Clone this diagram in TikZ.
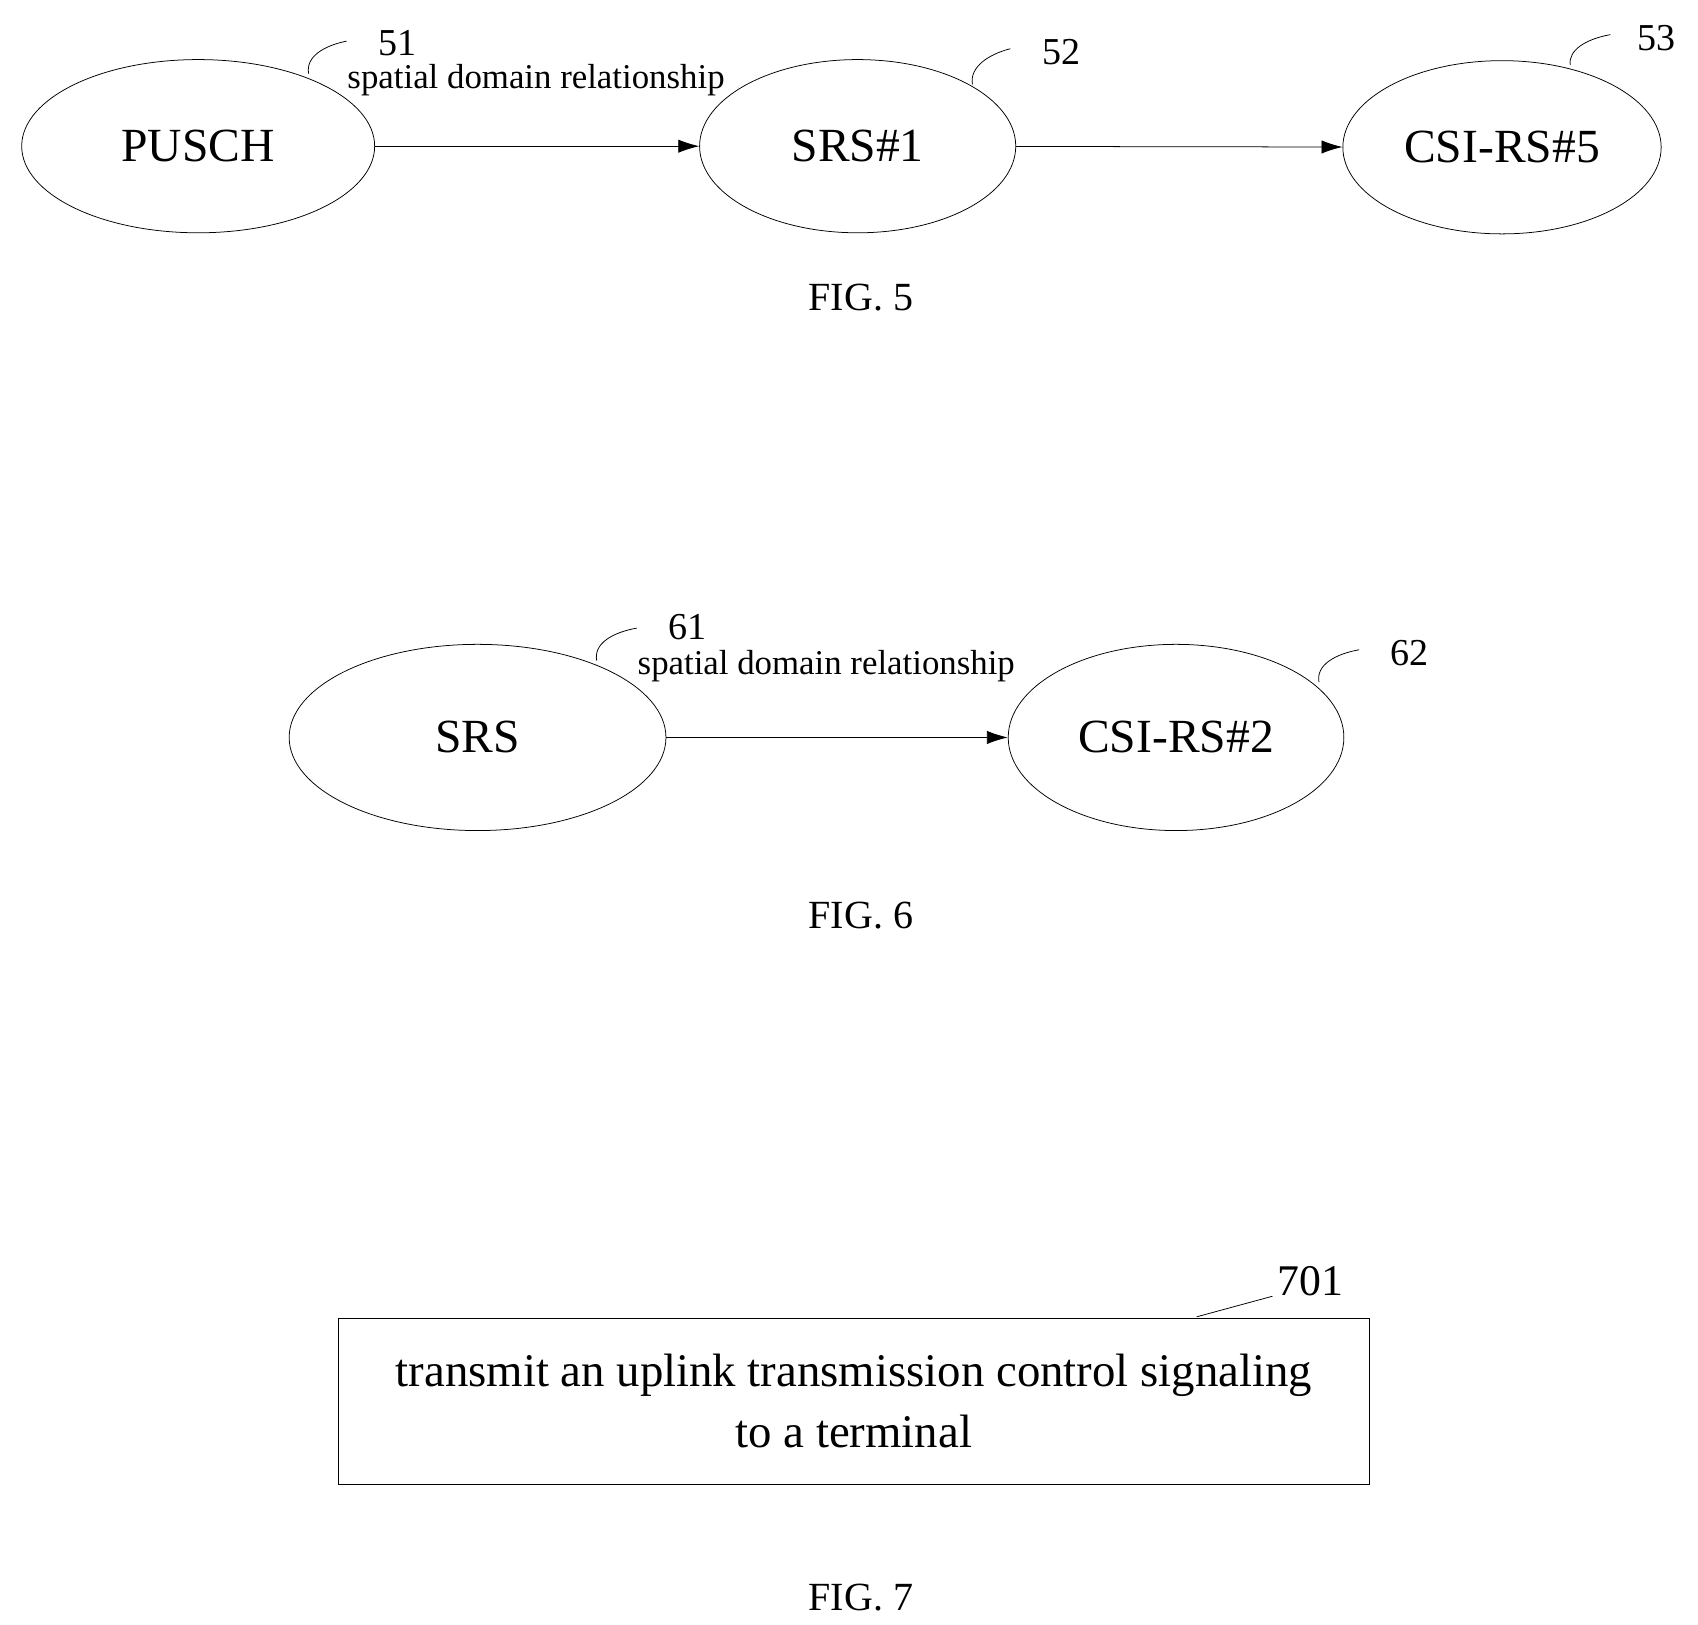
\documentclass[tikz,border=0pt]{standalone}
\usepackage{fontspec}
\setmainfont{Liberation Serif}
\usetikzlibrary{shapes.geometric,arrows.meta}
\begin{document}
\begin{tikzpicture}[x=0.02cm,y=-0.02cm,
  ell/.style={draw,ellipse,inner sep=0pt,font=\fontsize{25}{30}\selectfont},
  num/.style={font=\fontsize{20}{24}\selectfont},
  lab/.style={font=\fontsize{18.3}{20}\selectfont},
  fig/.style={font=\fontsize{21}{25}\selectfont},
  arr/.style={-{Latex[length=11pt,width=7pt]},thin}]
\useasboundingbox (0,0) rectangle (1568,1500);
% FIG 5
\node[ell,minimum width=6.52cm,minimum height=3.2cm] (pusch) at (183,135) {PUSCH};
\node[ell,minimum width=5.84cm,minimum height=3.2cm] (srs1) at (792,135) {SRS\#1};
\node[ell,minimum width=5.88cm,minimum height=3.2cm] (csi5) at (1387,136) {CSI-RS\#5};
\draw[arr] (pusch) -- (srs1);
\draw[arr] (srs1) -- (csi5);
\node[num] (n51) at (367,40) {51};
\node[lab] (l5) at (495,74) {spatial domain relationship};
\node[num] (n52) at (980,48) {52};
\node[num] (n53) at (1530,35) {53};
\draw[thin] (285,68) .. controls (282,52) and (300,42) .. (320,38);
\draw[thin] (898,78) .. controls (895,62) and (913,50) .. (933,45);
\draw[thin] (1450,60) .. controls (1448,46) and (1465,36) .. (1487,32);
\node[fig] (f5) at (795,275) {FIG. 5};
% FIG 6
\node[ell,minimum width=6.96cm,minimum height=3.44cm] (srs) at (441,681) {SRS};
\node[ell,minimum width=6.2cm,minimum height=3.44cm] (csi2) at (1086,681) {CSI-RS\#2};
\draw[arr] (srs) -- (csi2);
\node[num] (n61) at (635,579) {61};
\node[lab] (l6) at (763,615) {spatial domain relationship};
\node[num] (n62) at (1302,603) {62};
\draw[thin] (551,610) .. controls (548,594) and (566,584) .. (588,580);
\draw[thin] (1218,630) .. controls (1215,614) and (1233,604) .. (1255,600);
\node[fig] (f6) at (795,845) {FIG. 6};
% FIG 7
\node[draw,minimum width=19.06cm,minimum height=3.08cm,align=center,
  font=\fontsize{24.6}{32}\selectfont] (box) at (788.5,1294) {\raisebox{8\pgflinewidth}{}transmit an uplink transmission control signaling\\to a terminal};
\node[num,font=\fontsize{23}{27}\selectfont] (n701) at (1210,1183) {701};
\coordinate (c701) at (1105,1216);
\draw[thin] (c701) -- (1175,1197);
\node[fig] (f7) at (795,1475) {FIG. 7};
\end{tikzpicture}
\end{document}
